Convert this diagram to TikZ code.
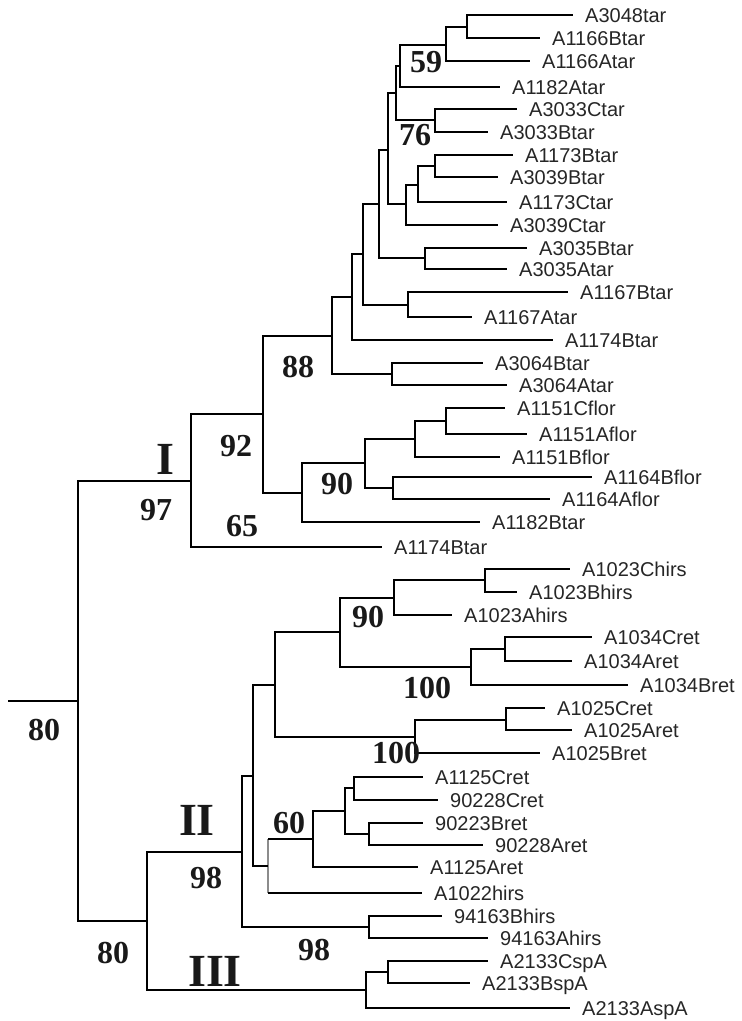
\documentclass[tikz,border=0pt]{standalone}
\usepackage{fontspec}
\setmainfont{Liberation Serif}
\newfontfamily\leaffont{Liberation Sans}
\begin{document}
\begin{tikzpicture}[x=1pt,y=-1pt,
  br/.style={line width=2.6pt, draw=black},
  grayline/.style={line width=1.6pt, draw=black!45},
  leaf/.style={font=\leaffont\fontsize{20}{22}\selectfont, anchor=west, inner xsep=12pt, inner ysep=0pt, text height=14pt, text depth=0pt, text=black!85},
  boot/.style={font=\bfseries\fontsize{32}{34}\selectfont, inner sep=0pt, text=black!90},
  clade/.style={font=\bfseries\fontsize{46}{48}\selectfont, inner sep=0pt, text=black!90}]
\useasboundingbox (0,0) rectangle (742,1021);
% leaves
\node[leaf] (t1) at (573,15) {A3048tar};
\node[leaf] (t2) at (540,38) {A1166Btar};
\node[leaf] (t3) at (530,61) {A1166Atar};
\node[leaf] (t4) at (500,87) {A1182Atar};
\node[leaf] (t5) at (517,109) {A3033Ctar};
\node[leaf] (t6) at (488,132) {A3033Btar};
\node[leaf] (t7) at (513,155) {A1173Btar};
\node[leaf] (t8) at (498,177) {A3039Btar};
\node[leaf] (t9) at (507,202) {A1173Ctar};
\node[leaf] (t10) at (498,225) {A3039Ctar};
\node[leaf] (t11) at (527,248) {A3035Btar};
\node[leaf] (t12) at (507,269) {A3035Atar};
\node[leaf] (t13) at (568,292) {A1167Btar};
\node[leaf] (t14) at (472,317) {A1167Atar};
\node[leaf] (t15) at (553,340) {A1174Btar};
\node[leaf] (t16) at (483,363) {A3064Btar};
\node[leaf] (t17) at (507,385) {A3064Atar};
\node[leaf] (t18) at (505,408) {A1151Cflor};
\node[leaf] (t19) at (527,434) {A1151Aflor};
\node[leaf] (t20) at (500,457) {A1151Bflor};
\node[leaf] (t21) at (592,477) {A1164Bflor};
\node[leaf] (t22) at (550,499) {A1164Aflor};
\node[leaf] (t23) at (480,522) {A1182Btar};
\node[leaf] (t24) at (382,547) {A1174Btar};
\node[leaf] (t25) at (570,569) {A1023Chirs};
\node[leaf] (t26) at (517,592) {A1023Bhirs};
\node[leaf] (t27) at (452,615) {A1023Ahirs};
\node[leaf] (t28) at (592,637) {A1034Cret};
\node[leaf] (t29) at (572,661) {A1034Aret};
\node[leaf] (t30) at (628,685) {A1034Bret};
\node[leaf] (t31) at (545,708) {A1025Cret};
\node[leaf] (t32) at (572,730) {A1025Aret};
\node[leaf] (t33) at (540,753) {A1025Bret};
\node[leaf] (t34) at (423,777) {A1125Cret};
\node[leaf] (t35) at (438,800) {90228Cret};
\node[leaf] (t36) at (423,823) {90223Bret};
\node[leaf] (t37) at (483,845) {90228Aret};
\node[leaf] (t38) at (418,867) {A1125Aret};
\node[leaf] (t39) at (422,893) {A1022hirs};
\node[leaf] (t40) at (442,916) {94163Bhirs};
\node[leaf] (t41) at (488,938) {94163Ahirs};
\node[leaf] (t42) at (488,961) {A2133CspA};
\node[leaf] (t43) at (470,983) {A2133BspA};
\node[leaf] (t44) at (570,1008) {A2133AspA};
% internal nodes
\coordinate (n1) at (467,27);
\coordinate (n2) at (446,45);
\coordinate (n3) at (400,66);
\coordinate (n4) at (435,120);
\coordinate (n5) at (396,93);
\coordinate (n6) at (435,166);
\coordinate (n7) at (418,185);
\coordinate (n8) at (406,204);
\coordinate (n9) at (388,150);
\coordinate (n10) at (425,258);
\coordinate (n11) at (379,204);
\coordinate (n12) at (408,305);
\coordinate (n13) at (363,254);
\coordinate (n14) at (352,297);
\coordinate (n15) at (392,374);
\coordinate (n16) at (332,336);
\coordinate (n17) at (446,421);
\coordinate (n18) at (415,439);
\coordinate (n19) at (393,488);
\coordinate (n20) at (365,463);
\coordinate (n21) at (302,493);
\coordinate (n22) at (263,414);
\coordinate (n23) at (191,481);
\coordinate (n24) at (485,580);
\coordinate (n25) at (394,598);
\coordinate (n26) at (505,649);
\coordinate (n27) at (471,667);
\coordinate (n28) at (340,632);
\coordinate (n29) at (506,720);
\coordinate (n30) at (415,737);
\coordinate (n31) at (275,685);
\coordinate (n32) at (354,788);
\coordinate (n33) at (369,834);
\coordinate (n34) at (345,811);
\coordinate (n35) at (313,839);
\coordinate (n36) at (268,866);
\coordinate (n37) at (253,776);
\coordinate (n38) at (369,927);
\coordinate (n39) at (242,852);
\coordinate (n40) at (388,972);
\coordinate (n41) at (366,990);
\coordinate (n42) at (147,921);
\coordinate (n43) at (78,701);
\coordinate (r0) at (8,701);
% branches
\draw[br] (n1) |- (t1.west); \draw[br] (n1) |- (t2.west);
\draw[br] (n2) |- (n1); \draw[br] (n2) |- (t3.west);
\draw[br] (n3) |- (n2); \draw[br] (n3) |- (t4.west);
\draw[br] (n4) |- (t5.west); \draw[br] (n4) |- (t6.west);
\draw[br] (n5) |- (n3); \draw[br] (n5) |- (n4);
\draw[br] (n6) |- (t7.west); \draw[br] (n6) |- (t8.west);
\draw[br] (n7) |- (n6); \draw[br] (n7) |- (t9.west);
\draw[br] (n8) |- (n7); \draw[br] (n8) |- (t10.west);
\draw[br] (n9) |- (n5); \draw[br] (n9) |- (n8);
\draw[br] (n10) |- (t11.west); \draw[br] (n10) |- (t12.west);
\draw[br] (n11) |- (n9); \draw[br] (n11) |- (n10);
\draw[br] (n12) |- (t13.west); \draw[br] (n12) |- (t14.west);
\draw[br] (n13) |- (n11); \draw[br] (n13) |- (n12);
\draw[br] (n14) |- (n13); \draw[br] (n14) |- (t15.west);
\draw[br] (n15) |- (t16.west); \draw[br] (n15) |- (t17.west);
\draw[br] (n16) |- (n14); \draw[br] (n16) |- (n15);
\draw[br] (n17) |- (t18.west); \draw[br] (n17) |- (t19.west);
\draw[br] (n18) |- (n17); \draw[br] (n18) |- (t20.west);
\draw[br] (n19) |- (t21.west); \draw[br] (n19) |- (t22.west);
\draw[br] (n20) |- (n18); \draw[br] (n20) |- (n19);
\draw[br] (n21) |- (n20); \draw[br] (n21) |- (t23.west);
\draw[br] (n22) |- (n16); \draw[br] (n22) |- (n21);
\draw[br] (n23) |- (n22); \draw[br] (n23) |- (t24.west);
\draw[br] (n24) |- (t25.west); \draw[br] (n24) |- (t26.west);
\draw[br] (n25) |- (n24); \draw[br] (n25) |- (t27.west);
\draw[br] (n26) |- (t28.west); \draw[br] (n26) |- (t29.west);
\draw[br] (n27) |- (n26); \draw[br] (n27) |- (t30.west);
\draw[br] (n28) |- (n25); \draw[br] (n28) |- (n27);
\draw[br] (n29) |- (t31.west); \draw[br] (n29) |- (t32.west);
\draw[br] (n30) |- (n29); \draw[br] (n30) |- (t33.west);
\draw[br] (n31) |- (n28); \draw[br] (n31) |- (n30);
\draw[br] (n32) |- (t34.west); \draw[br] (n32) |- (t35.west);
\draw[br] (n33) |- (t36.west); \draw[br] (n33) |- (t37.west);
\draw[br] (n34) |- (n32); \draw[br] (n34) |- (n33);
\draw[br] (n35) |- (n34); \draw[br] (n35) |- (t38.west);
\draw[grayline] (n36 |- n35) -- (n36 |- t39.west);
\draw[br] (n36 |- n35) -- (n35); \draw[br] (n36 |- t39.west) -- (t39.west);
\draw[br] (n37) |- (n31); \draw[br] (n37) |- (n36);
\draw[br] (n38) |- (t40.west); \draw[br] (n38) |- (t41.west);
\draw[br] (n39) |- (n37); \draw[br] (n39) |- (n38);
\draw[br] (n40) |- (t42.west); \draw[br] (n40) |- (t43.west);
\draw[br] (n41) |- (n40); \draw[br] (n41) |- (t44.west);
\draw[br] (n42) |- (n39); \draw[br] (n42) |- (n41);
\draw[br] (n43) |- (n23); \draw[br] (n43) |- (n42);
\draw[br] (r0) -- (n43);
% support values and clade labels
\node[boot] (b59) at (426,62) {59};
\node[boot] (b76) at (415,135) {76};
\node[boot] (b88) at (298,367) {88};
\node[boot] (b92) at (236,446) {92};
\node[boot] (b90a) at (337,484) {90};
\node[clade] (cI) at (165,459) {I};
\node[boot] (b97) at (156,510) {97};
\node[boot] (b65) at (242,526) {65};
\node[boot] (b90b) at (368,617) {90};
\node[boot] (b100a) at (427,688) {100};
\node[boot] (b100b) at (396,753) {100};
\node[boot] (b60) at (289,823) {60};
\node[clade] (cII) at (197,820) {II};
\node[boot] (b98a) at (206,878) {98};
\node[boot] (b98b) at (314,950) {98};
\node[boot] (b80a) at (44,730) {80};
\node[boot] (b80b) at (113,953) {80};
\node[clade] (cIII) at (215,971) {III};
\end{tikzpicture}
\end{document}
